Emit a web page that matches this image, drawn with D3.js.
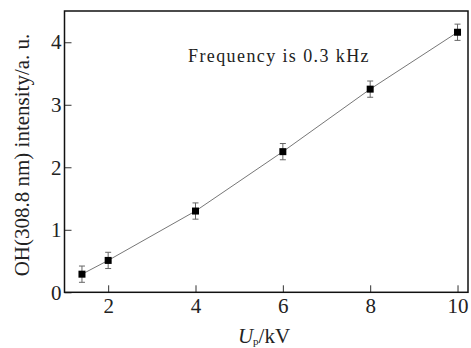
<!DOCTYPE html>
<html lang="en">
<head>
	<meta charset="UTF-8">
	<title>OH intensity vs Up</title>
	<script src="https://d3js.org/d3.v7.min.js"></script>
	<style>
		html, body {
			margin: 0;
			padding: 0;
			background: #fff;
		}
		svg text {
			font-family: 'Liberation Serif', 'Times New Roman', serif;
			fill: #222;
		}
	</style>
</head>
<body>
	<div id="chart"></div>
<script>
	// data
	var voltage = [1.4, 2, 4, 6, 8, 10];
	var intensity = [0.29, 0.51, 1.30, 2.25, 3.25, 4.16];
	var errors = [0.13, 0.13, 0.13, 0.13, 0.13, 0.13];
	var xTicks = [2, 4, 6, 8, 10];
	var yTicks = [0, 1, 2, 3, 4];

	var width = 471,
	    height = 348;

	// plot box (note: "top" would clash with window.top)
	var pLeft = 64.5, pRight = 468, pTop = 11, pBottom = 292.3;
	var serif = "'Liberation Serif', 'Times New Roman', serif";

	var svg = d3.select('#chart')
	.append('svg')
	.attr('width', width)
	.attr('height', height);

	var x = d3.scaleLinear().domain([1, 10.24]).range([pLeft, pRight]);
	var y = d3.scaleLinear().domain([0, 4.5]).range([pBottom, pTop]);

	var points = voltage.map(function(v, i) {
		return {x: v, y: intensity[i], e: errors[i]};
	});

	// axes, ticks pointing inward
	svg.append('g')
	.attr('transform', 'translate(0,' + pBottom + ')')
	.call(d3.axisBottom(x).tickValues(xTicks).tickSize(-7).tickPadding(6).tickFormat(d3.format('d')))
	.call(function(g) {
		g.select('.domain').remove();
		g.selectAll('line').attr('stroke', '#333').attr('stroke-width', 1);
		g.selectAll('text').attr('font-size', 21).attr('fill', '#222')
		.attr('font-family', serif);
	});

	svg.append('g')
	.attr('transform', 'translate(' + pLeft + ',0)')
	.call(d3.axisLeft(y).tickValues(yTicks).tickSize(-7).tickPadding(3).tickFormat(d3.format('d')))
	.call(function(g) {
		g.select('.domain').remove();
		g.selectAll('line').attr('stroke', '#333').attr('stroke-width', 1);
		g.selectAll('text').attr('font-size', 21).attr('fill', '#222')
		.attr('font-family', serif);
	});

	// frame
	svg.append('rect')
	.attr('x', pLeft)
	.attr('y', pTop)
	.attr('width', pRight - pLeft)
	.attr('height', pBottom - pTop)
	.attr('fill', 'none')
	.attr('stroke', '#111')
	.attr('stroke-width', 1.5);

	// connecting line
	var line = d3.line()
	.x(function(d) { return x(d.x); })
	.y(function(d) { return y(d.y); });

	svg.append('path')
	.attr('d', line(points))
	.attr('fill', 'none')
	.attr('stroke', '#777')
	.attr('stroke-width', 1);

	// error bars
	var bars = svg.append('g')
	.attr('stroke', '#666')
	.attr('stroke-width', 1);

	bars.selectAll('.err')
	.data(points)
	.enter().append('path')
	.attr('class', 'err')
	.attr('fill', 'none')
	.attr('d', function(d) {
		var cx = x(d.x), y0 = y(d.y - d.e), y1 = y(d.y + d.e);
		return 'M' + (cx - 3) + ',' + y1 + 'H' + (cx + 3) +
		       'M' + cx + ',' + y1 + 'V' + y0 +
		       'M' + (cx - 3) + ',' + y0 + 'H' + (cx + 3);
	});

	// square markers
	svg.selectAll('.marker')
	.data(points)
	.enter().append('rect')
	.attr('class', 'marker')
	.attr('x', function(d) { return x(d.x) - 3.5; })
	.attr('y', function(d) { return y(d.y) - 3.5; })
	.attr('width', 7)
	.attr('height', 7)
	.attr('fill', '#000');

	// annotation
	svg.append('text')
	.attr('x', 188)
	.attr('y', 62)
	.attr('font-size', 18)
	.attr('letter-spacing', 1.4)
	.attr('font-family', serif)
	.text('Frequency is 0.3 kHz');

	// axis titles
	var xt = svg.append('text')
	.attr('x', 264)
	.attr('y', 343)
	.attr('text-anchor', 'middle')
	.attr('font-family', serif)
	.attr('font-size', 21);
	xt.append('tspan').attr('font-style', 'italic').text('U');
	xt.append('tspan').attr('font-size', 11).attr('dy', 2).text('p');
	xt.append('tspan').attr('dy', -2).text('/kV');

	svg.append('text')
	.attr('transform', 'translate(29,155) rotate(-90)')
	.attr('text-anchor', 'middle')
	.attr('font-family', serif)
	.attr('font-size', 21)
	.text('OH(308.8 nm) intensity/a. u.');
</script>
</body>
</html>
